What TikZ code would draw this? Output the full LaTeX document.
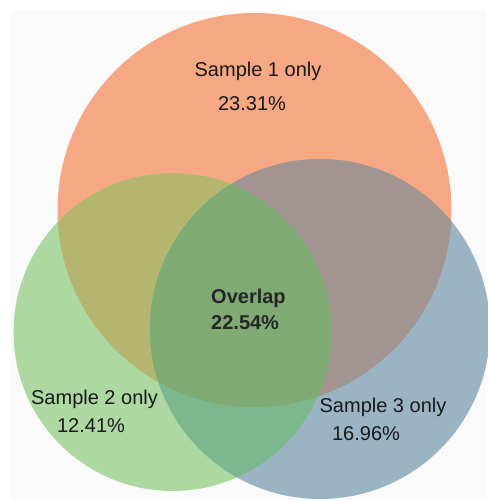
\documentclass[tikz,border=0pt]{standalone}
\usepackage{fontspec}
\setmainfont{Liberation Sans}
\usetikzlibrary{positioning}
\definecolor{onecol}{RGB}{246,168,133}
\definecolor{twocol}{RGB}{173,216,162}
\definecolor{threecol}{RGB}{155,180,195}
\definecolor{onetwocol}{RGB}{180,181,110}
\definecolor{onethreecol}{RGB}{162,148,145}
\definecolor{twothreecol}{RGB}{124,183,142}
\definecolor{allcol}{RGB}{128,170,116}
\definecolor{inkcol}{RGB}{25,25,25}
\tikzset{
    x=1pt,
    y=-1pt,
    venntext/.style = {
        inner sep=0pt,
        text=inkcol,
        font=\fontsize{20}{24}\selectfont
    },
    overlaptext/.style = {
        venntext,
        anchor=west,
        text=black!85,
        font=\fontsize{20}{24}\selectfont\bfseries
    },
}

\begin{document}
\begin{tikzpicture}
        \useasboundingbox (0,0) rectangle (487,500);
        \fill[black!2] (11,11) rectangle (486,500);

        % circle centres
        \coordinate (one) at (254.5,210);
        \coordinate (two) at (172.5,332);
        \coordinate (three) at (320,329);
        \def\rone{197pt}
        \def\rtwo{159pt}
        \def\rthree{170pt}

        \fill[onecol] (one) circle[radius=\rone];
        \fill[twocol] (two) circle[radius=\rtwo];
        \fill[threecol] (three) circle[radius=\rthree];

        % pairwise overlaps
        \begin{scope}
            \clip (one) circle[radius=\rone];
            \fill[onetwocol] (two) circle[radius=\rtwo];
            \fill[onethreecol] (three) circle[radius=\rthree];
        \end{scope}
        \begin{scope}
            \clip (two) circle[radius=\rtwo];
            \fill[twothreecol] (three) circle[radius=\rthree];
        \end{scope}
        \begin{scope}
            \clip (one) circle[radius=\rone];
            \clip (two) circle[radius=\rtwo];
            \fill[allcol] (three) circle[radius=\rthree];
        \end{scope}

        \node[venntext] (onename) at (258,71) {Sample 1 only};
        \node[venntext] (onepct) at (252,104) {23.31\%};
        \node[overlaptext] (overname) at (211,298) {Overlap};
        \node[overlaptext] (overpct) at (211,323) {22.54\%};
        \node[venntext] (twoname) at (94.5,399) {Sample 2 only};
        \node[venntext] (twopct) at (91,426) {12.41\%};
        \node[venntext] (threename) at (383,407) {Sample 3 only};
        \node[venntext] (threepct) at (366,434) {16.96\%};
    \end{tikzpicture}
\end{document}
